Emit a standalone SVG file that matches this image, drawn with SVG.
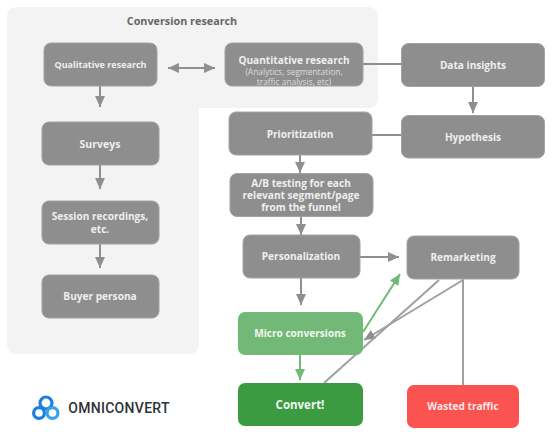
<svg xmlns="http://www.w3.org/2000/svg" width="560" height="444" viewBox="0 0 560 444">
<style>
.n{fill:#8e8e8e;stroke:#a2a2a2;stroke-width:1}
.t{font-family:"Open Sans","DejaVu Sans",sans-serif;font-weight:700;font-size:10.1px;fill:#eeeeee;text-anchor:middle}
.s{font-family:"Open Sans","DejaVu Sans",sans-serif;font-weight:400;font-size:8.4px;fill:#dddddd;text-anchor:middle}
.c{fill:none;stroke:#8f8f8f;stroke-width:2}
.l{fill:none;stroke:#a0a0a0;stroke-width:2}
.g{fill:none;stroke:#72b876;stroke-width:2}
</style>
<defs>
<marker id="a" markerUnits="userSpaceOnUse" markerWidth="12" markerHeight="12" refX="11" refY="6" orient="auto-start-reverse"><path d="M0 1L11 6L0 11Z" fill="#8f8f8f"/></marker>
<marker id="b" markerUnits="userSpaceOnUse" markerWidth="12" markerHeight="12" refX="11" refY="6" orient="auto"><path d="M0 1L11 6L0 11Z" fill="#72b876"/></marker>
</defs>
<g id="panel"><path d="M17 7H368Q378 7 378 17V98Q378 108 368 108H199V344Q199 354 189 354H17Q7 354 7 344V17Q7 7 17 7Z" fill="#f3f3f3"/>
<text x="182" y="25" font-family="Open Sans,DejaVu Sans,sans-serif" font-weight="700" font-size="10.800" fill="#666666" text-anchor="middle">Conversion research</text></g>
<g id="connectors">
<path class="c" d="M168 68H215" marker-start="url(#a)" marker-end="url(#a)"/>
<path class="c" d="M100 86V107" marker-end="url(#a)"/>
<path class="c" d="M100 165V189" marker-end="url(#a)"/>
<path class="c" d="M100 244V268" marker-end="url(#a)"/>
<path class="c" d="M363 64H401"/>
<path class="c" d="M473 86V113" marker-end="url(#a)"/>
<path class="c" d="M372 135H401"/>
<path class="c" d="M300 155V173" marker-end="url(#a)"/>
<path class="c" d="M301 217V235" marker-end="url(#a)"/>
<path class="c" d="M360 257H399" marker-end="url(#a)"/>
<path class="c" d="M301 278V305" marker-end="url(#a)"/>
<path class="g" d="M363 332L400 274" marker-end="url(#b)"/>
<path class="g" d="M300 355V380" marker-end="url(#b)"/>
<path class="l" d="M463 280L364 340" marker-end="url(#a)"/>
<path class="l" d="M439 280L324 383"/>
<path class="l" d="M463 279V385"/>
</g>
<g id="qualitative"><rect class="n" x="44" y="43" width="113" height="43" rx="7"/><text class="t" x="100.500" y="68" style="font-size:9px">Qualitative research</text></g>
<g id="quantitative"><rect class="n" x="225" y="43" width="138" height="43" rx="7"/><text class="t" x="294" y="64">Quantitative research</text><text class="s" x="294" y="75">(Analytics, segmentation,</text><text class="s" x="294" y="85">traffic analysis, etc)</text></g>
<g id="data-insights"><rect class="n" x="401.500" y="43.500" width="143" height="43" rx="7"/><text class="t" x="473" y="68.500">Data insights</text></g>
<g id="hypothesis"><rect class="n" x="401.500" y="115.500" width="143" height="42.500" rx="7"/><text class="t" x="473" y="141">Hypothesis</text></g>
<g id="prioritization"><rect class="n" x="229" y="112" width="143" height="43" rx="7"/><text class="t" x="300" y="137.500">Prioritization</text></g>
<g id="ab-testing"><rect class="n" x="230" y="173.500" width="143" height="43" rx="7"/><text class="t" x="301" y="187">A/B testing for each</text><text class="t" x="301" y="199">relevant segment/page</text><text class="t" x="301" y="211">from the funnel</text></g>
<g id="surveys"><rect class="n" x="42" y="122" width="117" height="43" rx="7"/><text class="t" x="100" y="148" style="font-size:10.500px">Surveys</text></g>
<g id="session"><rect class="n" x="42" y="201" width="117" height="43" rx="7"/><text class="t" x="100" y="220">Session recordings,</text><text class="t" x="100" y="233">etc.</text></g>
<g id="buyer"><rect class="n" x="42" y="275" width="117" height="43" rx="7"/><text class="t" x="100" y="300">Buyer persona</text></g>
<g id="personalization"><rect class="n" x="243" y="235" width="117" height="43" rx="7"/><text class="t" x="301" y="260">Personalization</text></g>
<g id="remarketing"><rect class="n" x="407" y="236" width="112" height="43" rx="7"/><text class="t" x="463" y="261">Remarketing</text></g>
<g id="micro"><rect x="238" y="312" width="125" height="43" rx="7" fill="#72b876"/><text class="t" x="300" y="337" style="fill:#f0f7f0">Micro conversions</text></g>
<g id="convert"><rect x="238" y="383" width="125" height="43" rx="7" fill="#3c9a41"/><text class="t" x="300" y="409" style="font-size:11.500px;fill:#f0f7f0">Convert!</text></g>
<g id="wasted"><rect x="407" y="385" width="112" height="43" rx="7" fill="#fb5350"/><text class="t" x="463" y="410" style="fill:#fde8e8">Wasted traffic</text></g>
<g id="logo">
<g fill="none" stroke="#1f7fe0" stroke-width="3.200"><circle cx="46" cy="403" r="6"/><circle cx="39" cy="413" r="5.400"/><circle cx="52.500" cy="413" r="5.400" stroke="#35a5e8"/></g>
<text x="119" y="413" font-family="Roboto,Open Sans,sans-serif" font-weight="500" font-size="14" fill="#2d3238" text-anchor="middle" letter-spacing=".3">OMNICONVERT</text>
</g>
</svg>
